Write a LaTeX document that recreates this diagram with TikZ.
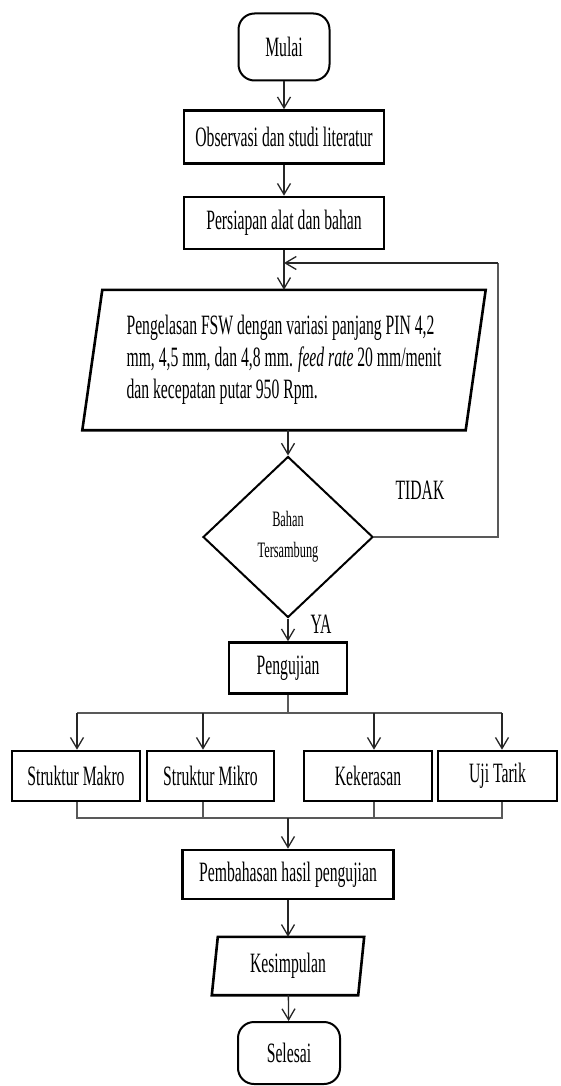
\documentclass[tikz,border=0pt]{standalone}
\usepackage{fontspec}
\setmainfont{Liberation Serif}[FakeStretch=0.56]
\usetikzlibrary{shapes.geometric,arrows.meta}
\tikzset{
  term/.style={draw=black,line width=2pt,rounded corners=16pt,inner sep=0pt},
  proc/.style={draw=black,line width=2.6pt,inner sep=0pt},
  io/.style={inner sep=0pt},
  cond/.style={diamond,draw=black,line width=2pt,inner sep=0pt,align=center,
    minimum width=170pt,minimum height=161pt,font=\fontsize{22}{31}\selectfont},
  flow/.style={draw=black!85,line width=1.3pt,-{Straight Barb[length=11pt,width=13pt]}},
  link/.style={draw=black!65,line width=1.3pt},
}

\begin{document}
\begin{tikzpicture}[x=1pt,y=-1pt,font=\fontsize{28}{32}\selectfont]
\useasboundingbox (0,0) rectangle (561,1086);
% main column
\node[term,minimum width=91pt,minimum height=67pt] (mulai) at (284,47) {Mulai};
\node[proc,minimum width=200pt,minimum height=53pt] (obs) at (284,137) {Observasi dan studi literatur};
\node[proc,minimum width=200pt,minimum height=52pt] (siap) at (284,223) {Persiapan alat dan bahan};
\node[io,minimum width=383pt,minimum height=140pt,align=left] (las) at (284,360)
  {Pengelasan FSW dengan variasi panjang PIN 4,2\\
   mm, 4,5 mm, dan 4,8 mm. \textit{feed rate} 20 mm/menit\\
   dan kecepatan putar 950 Rpm.};
\draw[line width=2.6pt] ([xshift=10pt]las.north west) -- ([xshift=10pt]las.north east)
  -- ([xshift=-10pt]las.south east) -- ([xshift=-10pt]las.south west) -- cycle;
\node[cond] (cek) at (288,537) {Bahan\\Tersambung};
\node (tidak) at (420,490) {TIDAK};
\node (ya) at (321,624) {YA};
\node[proc,minimum width=118pt,minimum height=51pt] (uji) at (288,668) {Pengujian};
% tests
\node[proc,minimum width=128pt,minimum height=50pt] (makro) at (76,776) {Struktur Makro};
\node[proc,minimum width=127pt,minimum height=50pt] (mikro) at (210.5,776) {Struktur Mikro};
\node[proc,minimum width=128pt,minimum height=50pt] (keras) at (368,776) {Kekerasan};
\node[proc,minimum width=119pt,minimum height=50pt] (tarik) at (497.5,776) {Uji Tarik};
\node[proc,minimum width=211pt,minimum height=49pt] (bahas) at (288,874.5) {Pembahasan hasil pengujian};
\node[io,minimum width=146pt,minimum height=58pt] (simpul) at (288,966) {Kesimpulan};
\draw[line width=2.6pt] ([xshift=3pt]simpul.north west) -- ([xshift=3pt]simpul.north east)
  -- ([xshift=-3pt]simpul.south east) -- ([xshift=-3pt]simpul.south west) -- cycle;
\node[term,minimum width=102pt,minimum height=62pt] (selesai) at (289,1053) {Selesai};
% connectors
\draw[flow] (mulai) -- (obs);
\draw[flow] (obs) -- (siap);
\draw[flow] (siap) -- (las);
\draw[flow] (las.south -| cek.north) -- (cek.north);
\coordinate (balik) at (498,263);
\draw[link] (cek.east) -| (balik);
\draw[flow] (balik) -- (balik -| siap.south);
\draw[flow] (cek) -- (uji);
\coordinate (cab) at (288,713);
\coordinate (b1) at (77,713);
\coordinate (b2) at (203,713);
\coordinate (b3) at (374,713);
\coordinate (b4) at (502,713);
\draw[link] (uji) -- (cab);
\draw[link] (b1) -- (b4);
\draw[flow] (b1) -- (b1 |- makro.north);
\draw[flow] (b2) -- (b2 |- mikro.north);
\draw[flow] (b3) -- (b3 |- keras.north);
\draw[flow] (b4) -- (b4 |- tarik.north);
\coordinate (gab) at (288,818);
\draw[link] (b1 |- makro.south) -- (b1 |- gab) -- (b4 |- gab) -- (b4 |- tarik.south);
\draw[link] (b2 |- mikro.south) -- (b2 |- gab);
\draw[link] (b3 |- keras.south) -- (b3 |- gab);
\draw[flow] (gab) -- (bahas);
\draw[flow] (bahas) -- (simpul);
\draw[flow] (simpul) -- (selesai);
\end{tikzpicture}
\end{document}
